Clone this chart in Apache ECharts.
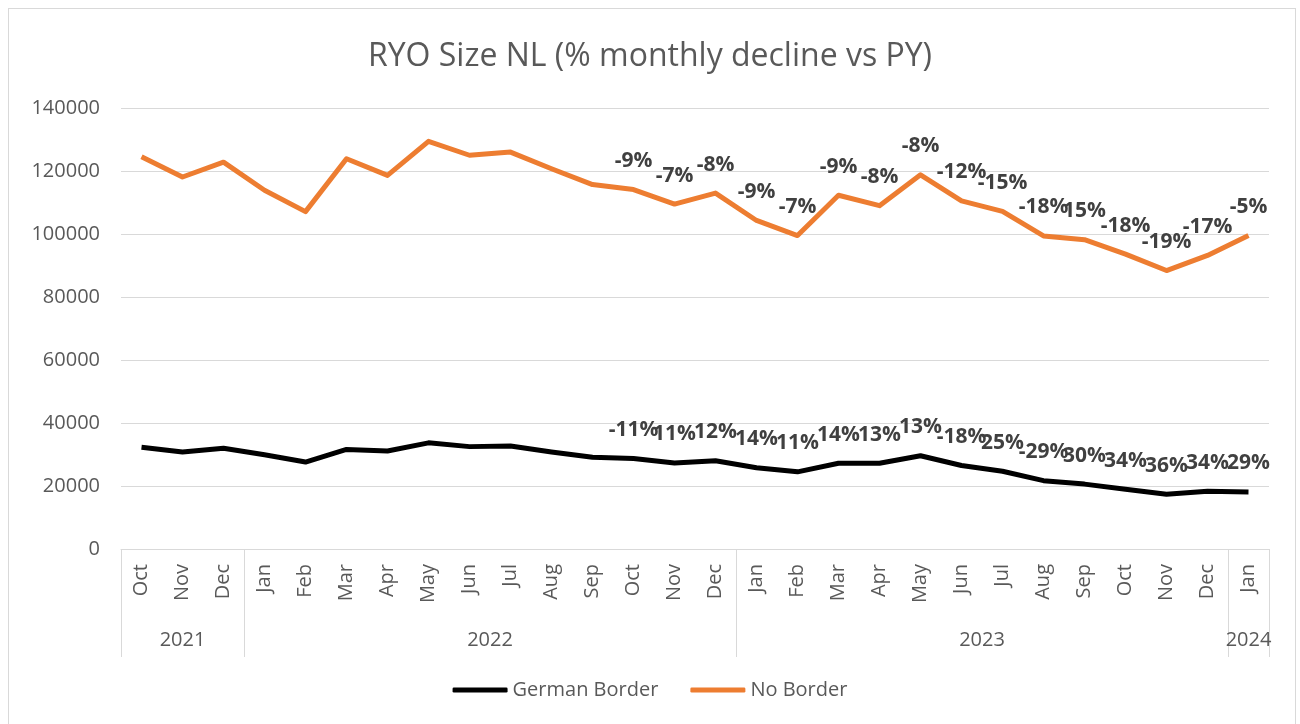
<!DOCTYPE html>
<html>
<head>
<meta charset="utf-8">
<script src="https://cdn.jsdelivr.net/npm/echarts@6/dist/echarts.min.js"></script>
<style>
html,body{margin:0;padding:0;background:#fff;overflow:hidden;}
#frame{position:absolute;left:8px;top:8px;width:1288px;height:800px;border:1px solid #d9d9d9;box-sizing:border-box;}
#chart{position:absolute;left:0;top:0;width:1300px;height:724px;}
</style>
</head>
<body>
<div id="frame"></div>
<div id="chart"></div>
<script>
const months = ['Oct','Nov','Dec','Jan','Feb','Mar','Apr','May','Jun','Jul','Aug','Sep','Oct','Nov','Dec','Jan','Feb','Mar','Apr','May','Jun','Jul','Aug','Sep','Oct','Nov','Dec','Jan'];
const years = [2021,2021,2021,2022,2022,2022,2022,2022,2022,2022,2022,2022,2022,2022,2022,2023,2023,2023,2023,2023,2023,2023,2023,2023,2023,2023,2023,2024];
const germanBorder = [32300,30800,32000,29900,27600,31600,31100,33700,32500,32700,30800,29100,28700,27300,28000,25800,24500,27200,27200,29600,26500,24700,21700,20600,19000,17400,18300,18100];
const noBorder = [124500,118100,122800,113900,107100,123900,118600,129400,125000,126000,120700,115700,114100,109500,113000,104300,99500,112300,109000,118800,110500,107200,99400,98200,93600,88400,93200,99500];
const germanLabels = ['','','','','','','','','','','','','-11%','11%','12%','14%','11%','14%','13%','13%','-18%','25%','-29%','30%','34%','36%','34%','29%'];
const noBorderLabels = ['','','','','','','','','','','','','-9%','-7%','-8%','-9%','-7%','-9%','-8%','-8%','-12%','-15%','-18%','15%','-18%','-19%','-17%','-5%'];
const yTicks = [0,20000,40000,60000,80000,100000,120000,140000];

// year groups from years array
const groupBounds = [0];
const groupCenters = [];
const groupYears = [];
let start = 0;
for (let i = 1; i <= years.length; i++) {
  if (i === years.length || years[i] !== years[start]) {
    groupBounds.push(i);
    groupCenters.push((start + i) / 2);
    groupYears.push(years[start]);
    start = i;
  }
}

const FONT = "'Open Sans', sans-serif";
const chart = echarts.init(document.getElementById('chart'), null, {renderer: 'canvas'});
const labelStyle = {
  show: true, position: 'top', distance: 18,
  fontFamily: FONT, fontSize: 21, fontWeight: 'bold', color: '#404040'
};
chart.setOption({
  animation: false,
  title: {
    text: 'RYO Size NL (% monthly decline vs PY)',
    left: 'center', top: 36,
    textStyle: {fontFamily: FONT, fontSize: 32, fontWeight: 'normal', color: '#595959'}
  },
  legend: {
    bottom: 19, left: 'center',
    itemWidth: 55, itemHeight: 5, itemGap: 32, icon: 'roundRect',
    textStyle: {fontFamily: FONT, fontSize: 20, color: '#595959'},
    data: ['German Border', 'No Border']
  },
  grid: {left: 121, right: 31, top: 108, bottom: 175},
  xAxis: [{
    type: 'category', data: months, boundaryGap: true,
    axisLine: {lineStyle: {color: '#d9d9d9', width: 1}},
    axisTick: {show: false},
    axisLabel: {rotate: 90, margin: 15, interval: 0, fontFamily: FONT, fontSize: 20, color: '#595959'}
  }, {
    type: 'value', min: 0, max: years.length, position: 'bottom',
    axisLine: {show: false}, splitLine: {show: false},
    axisTick: {show: true, customValues: groupBounds, length: 108, lineStyle: {color: '#d9d9d9', width: 1}},
    axisLabel: {
      customValues: groupCenters, margin: 81, fontFamily: FONT, fontSize: 20, color: '#595959',
      formatter: function (v) { const k = groupCenters.indexOf(v); return k >= 0 ? String(groupYears[k]) : ''; }
    }
  }],
  yAxis: {
    type: 'value', min: yTicks[0], max: yTicks[yTicks.length - 1], interval: yTicks[1] - yTicks[0],
    axisLine: {show: false}, axisTick: {show: false},
    splitLine: {lineStyle: {color: '#d9d9d9', width: 1}},
    axisLabel: {margin: 21, fontFamily: FONT, fontSize: 20, color: '#595959', formatter: v => String(v)}
  },
  series: [{
    name: 'German Border', type: 'line', data: germanBorder, xAxisIndex: 0,
    symbol: 'circle', symbolSize: 0.01, showSymbol: true, showAllSymbol: true, color: '#000000',
    lineStyle: {width: 5, color: '#000000', join: 'round'},
    label: Object.assign({}, labelStyle, {formatter: p => germanLabels[p.dataIndex]})
  }, {
    name: 'No Border', type: 'line', data: noBorder, xAxisIndex: 0,
    symbol: 'circle', symbolSize: 0.01, showSymbol: true, showAllSymbol: true, color: '#ED7D31',
    lineStyle: {width: 5, color: '#ED7D31', join: 'round'},
    label: Object.assign({}, labelStyle, {formatter: p => noBorderLabels[p.dataIndex]})
  }]
});
</script>
</body>
</html>
